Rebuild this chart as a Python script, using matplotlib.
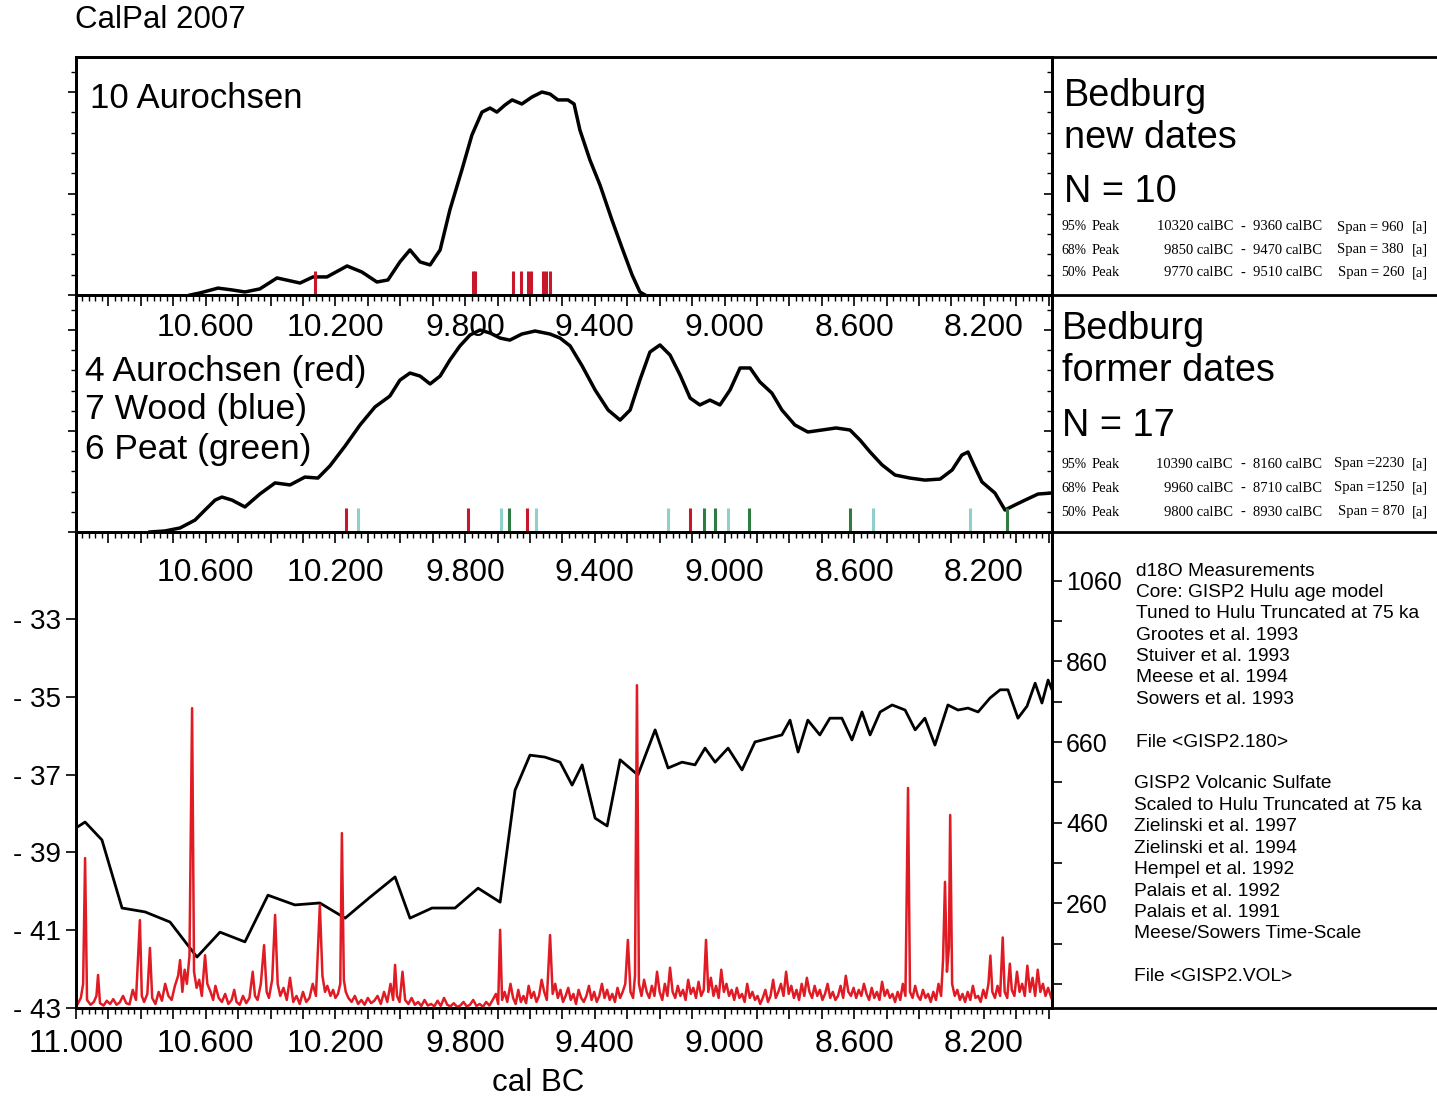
import matplotlib
matplotlib.use('Agg')
import matplotlib.pyplot as plt
from matplotlib.ticker import FixedLocator, MultipleLocator, FuncFormatter
from matplotlib.lines import Line2D

plt.rcParams['font.family'] = ['Liberation Sans', 'DejaVu Sans']

# ---------------- data ----------------
# x axis: years cal BC
xlabel_years = [10600, 10200, 9800, 9400, 9000, 8600, 8200]
bottom_xlabel_years = [11000, 10600, 10200, 9800, 9400, 9000, 8600, 8200]

# Panel 1: Bedburg new dates (summed probability, relative)
new_years = [10648, 10618, 10562, 10519, 10479, 10433, 10380, 10309, 10269, 10226,
             10164, 10118, 10072, 10038, 10001, 9970, 9939, 9908, 9877, 9847,
             9810, 9779, 9748, 9723, 9702, 9677, 9655, 9625, 9594, 9563,
             9538, 9514, 9483, 9464, 9446, 9415, 9384, 9347, 9316, 9285,
             9261, 9245]
new_prob = [0.0, 0.01, 0.034, 0.025, 0.015, 0.03, 0.084, 0.059, 0.089, 0.089,
            0.143, 0.113, 0.064, 0.074, 0.163, 0.222, 0.163, 0.148, 0.222, 0.419,
            0.616, 0.788, 0.901, 0.921, 0.901, 0.936, 0.961, 0.941, 0.975, 1.0,
            0.99, 0.961, 0.961, 0.941, 0.813, 0.665, 0.542, 0.369, 0.232, 0.099,
            0.015, 0.0]
new_dates_aurochs = [10263, 9776, 9770, 9652, 9628, 9606, 9597, 9560, 9550, 9538]

# Panel 2: Bedburg former dates
former_years = [10772, 10726, 10679, 10633, 10602, 10571, 10550, 10519, 10479, 10433,
                10386, 10340, 10294, 10254, 10217, 10170, 10124, 10078, 10032, 10001,
                9970, 9939, 9908, 9877, 9847, 9816, 9785, 9754, 9723, 9692,
                9662, 9625, 9584, 9538, 9507, 9476, 9439, 9399, 9359, 9322,
                9291, 9261, 9230, 9199, 9168, 9137, 9106, 9076, 9045, 9014,
                8983, 8952, 8921, 8891, 8854, 8823, 8783, 8743, 8699, 8656,
                8613, 8582, 8551, 8514, 8474, 8428, 8382, 8335, 8298, 8268,
                8249, 8231, 8206, 8166, 8135, 8104, 8073, 8033, 7990]
former_prob = [0.0, 0.005, 0.02, 0.059, 0.109, 0.158, 0.173, 0.158, 0.124, 0.188,
               0.243, 0.233, 0.272, 0.267, 0.327, 0.426, 0.53, 0.619, 0.673, 0.752,
               0.787, 0.772, 0.733, 0.772, 0.851, 0.921, 0.975, 1.0, 0.985, 0.96,
               0.95, 0.98, 0.995, 0.98, 0.96, 0.921, 0.822, 0.703, 0.604, 0.554,
               0.604, 0.752, 0.891, 0.926, 0.876, 0.777, 0.663, 0.629, 0.653, 0.629,
               0.703, 0.812, 0.812, 0.743, 0.688, 0.604, 0.53, 0.495, 0.505, 0.515,
               0.505, 0.455, 0.396, 0.332, 0.282, 0.267, 0.257, 0.262, 0.307, 0.381,
               0.396, 0.332, 0.248, 0.193, 0.109, 0.134, 0.158, 0.188, 0.193]
former_aurochs = [10168, 9792, 9610, 9105]
former_wood = [10131, 9689, 9581, 9173, 8990, 8541, 8243]
former_peat = [9665, 9064, 9029, 8924, 8613, 8130]

# Stats tables
levels = ['95%', '68%', '50%']
new_from = [10320, 9850, 9770]
new_to = [9360, 9470, 9510]
new_span = [960, 380, 260]
former_from = [10390, 9960, 9800]
former_to = [8160, 8710, 8930]
former_span = [2230, 1250, 870]

# Panel 3: GISP2 d18O (left axis) and volcanic sulfate (right axis)
d18o_years = [11000, 10972, 10920, 10858, 10787, 10710, 10627, 10556, 10479, 10408,
              10325, 10248, 10170, 10093, 10016, 9970, 9902, 9831, 9760, 9692,
              9646, 9600, 9554, 9507, 9470, 9439, 9399, 9362, 9322, 9267,
              9214, 9174, 9131, 9091, 9060, 9029, 8989, 8946, 8906, 8860,
              8823, 8798, 8773, 8743, 8706, 8675, 8638, 8607, 8576, 8551,
              8520, 8483, 8443, 8412, 8382, 8351, 8311, 8280, 8249, 8218,
              8181, 8150, 8126, 8095, 8067, 8042, 8021, 8002, 7990]
d18o_values = [-38.37, -38.22, -38.68, -40.43, -40.53, -40.79, -41.69, -41.05, -41.30, -40.10,
               -40.35, -40.30, -40.69, -40.15, -39.63, -40.69, -40.43, -40.43, -39.92, -40.28,
               -37.40, -36.50, -36.55, -36.68, -37.27, -36.75, -38.12, -38.32, -36.62, -37.01,
               -35.85, -36.83, -36.68, -36.75, -36.32, -36.68, -36.32, -36.88, -36.16, -36.06,
               -35.98, -35.60, -36.42, -35.60, -35.98, -35.55, -35.55, -36.11, -35.39, -35.98,
               -35.39, -35.21, -35.34, -35.85, -35.55, -36.24, -35.21, -35.34, -35.29, -35.39,
               -35.03, -34.82, -34.82, -35.55, -35.24, -34.65, -35.16, -34.57, -34.82]

sulfate_years = [
    10995, 10985, 10978, 10972, 10966, 10955, 10945, 10937, 10932, 10926,
    10915, 10905, 10895, 10885, 10875, 10865, 10855, 10845, 10835, 10825,
    10815, 10803, 10797, 10790, 10780, 10772, 10765, 10755, 10745, 10735,
    10725, 10715, 10705, 10695, 10685, 10679, 10672, 10665, 10658, 10650,
    10642, 10636, 10628, 10620, 10612, 10602, 10595, 10585, 10577, 10570,
    10560, 10550, 10540, 10530, 10520, 10512, 10505, 10495, 10485, 10475,
    10465, 10455, 10448, 10440, 10430, 10420, 10412, 10405, 10395, 10386,
    10378, 10370, 10360, 10350, 10340, 10330, 10320, 10310, 10300, 10290,
    10280, 10270, 10260, 10248, 10240, 10232, 10225, 10215, 10207, 10200,
    10192, 10185, 10180, 10174, 10168, 10160, 10150, 10140, 10130, 10120,
    10110, 10100, 10090, 10080, 10070, 10060, 10050, 10040, 10030, 10022,
    10016, 10010, 10002, 9993, 9985, 9975, 9965, 9955, 9945, 9935,
    9925, 9915, 9905, 9895, 9885, 9875, 9865, 9855, 9845, 9835,
    9825, 9815, 9805, 9795, 9785, 9775, 9765, 9755, 9745, 9735,
    9725, 9715, 9705, 9698, 9692, 9686, 9678, 9670, 9660, 9652,
    9644, 9636, 9628, 9620, 9612, 9604, 9596, 9588, 9580, 9572,
    9564, 9556, 9548, 9538, 9530, 9522, 9514, 9506, 9498, 9490,
    9482, 9474, 9466, 9458, 9450, 9442, 9434, 9426, 9418, 9410,
    9402, 9394, 9386, 9378, 9370, 9362, 9354, 9346, 9338, 9330,
    9322, 9314, 9306, 9298, 9290, 9282, 9276, 9270, 9264, 9256,
    9248, 9240, 9232, 9224, 9216, 9208, 9200, 9192, 9184, 9176,
    9168, 9160, 9152, 9144, 9136, 9128, 9120, 9112, 9104, 9096,
    9088, 9080, 9072, 9064, 9057, 9050, 9042, 9034, 9026, 9018,
    9010, 9002, 8994, 8986, 8978, 8970, 8962, 8954, 8946, 8938,
    8930, 8922, 8914, 8906, 8898, 8890, 8882, 8874, 8866, 8858,
    8850, 8842, 8834, 8826, 8818, 8810, 8802, 8794, 8786, 8778,
    8770, 8762, 8754, 8746, 8738, 8730, 8722, 8714, 8706, 8698,
    8690, 8682, 8674, 8666, 8658, 8650, 8642, 8634, 8626, 8618,
    8610, 8602, 8594, 8586, 8578, 8570, 8562, 8554, 8546, 8538,
    8530, 8522, 8514, 8506, 8498, 8490, 8482, 8474, 8466, 8458,
    8450, 8442, 8434, 8428, 8420, 8412, 8404, 8396, 8388, 8380,
    8372, 8364, 8356, 8348, 8340, 8332, 8326, 8320, 8314, 8308,
    8304, 8298, 8290, 8282, 8274, 8266, 8258, 8250, 8242, 8234,
    8226, 8218, 8210, 8202, 8194, 8186, 8180, 8174, 8166, 8158,
    8150, 8142, 8136, 8128, 8120, 8114, 8106, 8098, 8090, 8082,
    8074, 8066, 8058, 8050, 8042, 8034, 8026, 8018, 8010, 8002,
    7992]
sulfate_values = [
    10, 25, 60, 372, 20, 8, 15, 30, 82, 12,
    6, 18, 10, 22, 8, 14, 30, 12, 9, 45,
    20, 218, 30, 15, 35, 149, 25, 10, 40, 18,
    60, 30, 20, 55, 80, 119, 40, 95, 60, 130,
    744, 90, 50, 70, 30, 131, 60, 40, 20, 55,
    25, 15, 35, 10, 20, 45, 15, 8, 30, 12,
    25, 90, 30, 20, 60, 156, 40, 25, 70, 231,
    60, 30, 50, 20, 75, 15, 30, 10, 40, 15,
    25, 60, 30, 256, 80, 40, 55, 30, 45, 25,
    35, 60, 434, 70, 40, 25, 15, 30, 10, 20,
    8, 25, 12, 18, 30, 10, 40, 15, 60, 20,
    107, 30, 15, 90, 20, 10, 25, 8, 15, 5,
    20, 6, 10, 4, 18, 5, 25, 8, 4, 12,
    3, 6, 15, 4, 8, 20, 5, 10, 3, 15,
    6, 20, 35, 10, 194, 20, 40, 15, 60, 25,
    10, 45, 15, 30, 12, 55, 25, 40, 15, 30,
    70, 40, 20, 181, 35, 60, 25, 45, 15, 30,
    50, 20, 35, 10, 45, 25, 15, 30, 55, 20,
    40, 15, 30, 60, 25, 45, 20, 35, 15, 50,
    25, 40, 60, 169, 40, 25, 80, 801, 60, 30,
    70, 40, 25, 55, 30, 90, 40, 20, 60, 30,
    100, 40, 25, 55, 30, 45, 20, 70, 35, 50,
    25, 65, 30, 45, 169, 40, 75, 30, 55, 25,
    95, 40, 60, 30, 45, 20, 50, 25, 35, 15,
    60, 25, 40, 20, 30, 10, 25, 45, 15, 30,
    70, 25, 40, 60, 30, 90, 35, 55, 25, 45,
    20, 60, 30, 75, 40, 25, 55, 30, 45, 20,
    35, 60, 25, 40, 20, 30, 55, 25, 80, 40,
    30, 50, 25, 45, 30, 60, 35, 20, 50, 25,
    40, 20, 65, 30, 45, 25, 35, 15, 40, 20,
    60, 30, 546, 40, 25, 55, 30, 20, 45, 25,
    35, 15, 40, 20, 60, 30, 120, 313, 90, 150,
    479, 60, 30, 45, 20, 35, 15, 40, 20, 55,
    25, 30, 15, 45, 25, 60, 130, 40, 25, 55,
    30, 175, 40, 25, 110, 45, 30, 90, 40, 60,
    30, 105, 40, 75, 30, 95, 40, 60, 30, 50,
    25]

d18o_ticks = [-33, -35, -37, -39, -41, -43]
sulfate_ticks = [60, 160, 260, 360, 460, 560, 660, 760, 860, 960, 1060]
sulfate_labels = [260, 460, 660, 860, 1060]

# ---------------- layout ----------------
W, H = 1437, 1098
fig = plt.figure(figsize=(W / 100, H / 100), dpi=100)


def fx(px):
    return px / W


def fy(py):
    return 1 - py / H


LW = 2.0
RED = '#c8162a'
WOOD = '#8fd0cc'
PEAT = '#2f7d42'
SULF = '#e01b24'
X0, X1 = 11000, 7990


def make_axes(top, bottom):
    ax = fig.add_axes([fx(76), fy(bottom), fx(1052) - fx(76), (bottom - top) / H])
    ax.patch.set_visible(False)
    ax.set_xlim(X0, X1)
    for s in ax.spines.values():
        s.set_linewidth(LW)
    return ax


def setup_x(ax, labels, pad):
    ax.xaxis.set_major_locator(MultipleLocator(100))
    ax.xaxis.set_minor_locator(MultipleLocator(20))
    ax.xaxis.set_major_formatter(FuncFormatter(
        lambda v, p: f"{v / 1000:.3f}" if int(round(v)) in labels else ''))
    ax.tick_params(axis='x', which='major', direction='out', length=8, width=1.2,
                   labelsize=23, pad=pad, top=False)
    ax.tick_params(axis='x', which='minor', direction='out', length=4.5, width=1.0, top=False)


def setup_prob_y(ax, ymax):
    ax.set_ylim(0, ymax)
    ax.yaxis.set_major_locator(MultipleLocator(0.5))
    ax.yaxis.set_minor_locator(MultipleLocator(0.1))
    ax.tick_params(axis='y', which='major', direction='out', length=6, width=1.2,
                   labelleft=False, right=False)
    ax.tick_params(axis='y', which='minor', direction='out', length=3.5, width=1.0, right=False)
    axr = ax.twinx()
    axr.set_ylim(0, ymax)
    axr.yaxis.set_major_locator(MultipleLocator(0.5))
    axr.yaxis.set_minor_locator(MultipleLocator(0.1))
    axr.tick_params(axis='y', which='major', direction='in', length=6, width=1.2, labelright=False)
    axr.tick_params(axis='y', which='minor', direction='in', length=3.5, width=1.0)
    for s in axr.spines.values():
        s.set_linewidth(LW)


# ---- panel 1
ax1 = make_axes(57, 295)
setup_x(ax1, xlabel_years, 5)
setup_prob_y(ax1, 238 / 203)
ax1.plot(new_years, new_prob, color='black', lw=2.5, solid_joinstyle='round')
ax1.vlines(new_dates_aurochs, 0, 0.1, color=RED, lw=2.2, transform=ax1.get_xaxis_transform())

# ---- panel 2
ax2 = make_axes(295, 532)
setup_x(ax2, xlabel_years, 11)
setup_prob_y(ax2, 237 / 202)
ax2.plot(former_years, former_prob, color='black', lw=2.5, solid_joinstyle='round')
xt = ax2.get_xaxis_transform()
ax2.vlines(former_aurochs, 0, 0.1, color=RED, lw=2.2, transform=xt)
ax2.vlines(former_wood, 0, 0.1, color=WOOD, lw=2.2, transform=xt)
ax2.vlines(former_peat, 0, 0.1, color=PEAT, lw=2.2, transform=xt)

# ---- panel 3
ax3 = make_axes(532, 1008)
setup_x(ax3, bottom_xlabel_years, 7)
ax3.set_ylim(-43, -43 + 476 / 38.9)
ax3.yaxis.set_major_locator(FixedLocator(d18o_ticks))
ax3.yaxis.set_major_formatter(FuncFormatter(lambda v, p: f"- {abs(int(round(v)))}"))
ax3.tick_params(axis='y', direction='out', length=7, width=1.2, labelsize=20, pad=4, right=False)
ax3.plot(d18o_years, d18o_values, color='black', lw=2.0)

ax3r = ax3.twinx()
ax3r.set_ylim(0, 476 / 0.403)
ax3r.yaxis.set_major_locator(FixedLocator(sulfate_ticks))
ax3r.yaxis.set_major_formatter(FuncFormatter(
    lambda v, p: f"{int(round(v))}" if int(round(v)) in sulfate_labels else ''))
ax3r.tick_params(axis='y', direction='out', length=7, width=1.2, labelsize=18, pad=3)
for s in ax3r.spines.values():
    s.set_linewidth(LW)
ax3r.plot(sulfate_years, sulfate_values, color=SULF, lw=1.8)

# frame extensions to the right edge
for yy in (57, 295, 532, 1008):
    fig.add_artist(Line2D([fx(1052), 1.0], [fy(yy), fy(yy)], transform=fig.transFigure,
                          color='black', lw=LW))

# ---------------- texts ----------------
fig.text(fx(75), fy(20), 'CalPal 2007', fontsize=22.5, va='center', ha='left')
fig.text(fx(90), fy(98), '10 Aurochsen', fontsize=25, va='center', ha='left')
fig.text(fx(85), fy(372), '4 Aurochsen (red)', fontsize=25.5, va='center', ha='left')
fig.text(fx(85), fy(410), '7 Wood (blue)', fontsize=25.5, va='center', ha='left')
fig.text(fx(85), fy(449), '6 Peat (green)', fontsize=25.5, va='center', ha='left')

fig.text(fx(1064), fy(96), 'Bedburg', fontsize=27.3, va='center', ha='left')
fig.text(fx(1064), fy(138), 'new dates', fontsize=27.3, va='center', ha='left')
fig.text(fx(1064), fy(192), 'N = 10', fontsize=27.3, va='center', ha='left')
fig.text(fx(1062), fy(329), 'Bedburg', fontsize=27.3, va='center', ha='left')
fig.text(fx(1062), fy(371), 'former dates', fontsize=27.3, va='center', ha='left')
fig.text(fx(1062), fy(426), 'N = 17', fontsize=27.3, va='center', ha='left')

SERIF = ['Liberation Serif', 'DejaVu Serif']


def stats_rows(ys, froms, tos, spans):
    for y, lev, f, t, s in zip(ys, levels, froms, tos, spans):
        kw = dict(fontsize=10.5, va='center', family=SERIF)
        fig.text(fx(1061), fy(y), lev, ha='left', fontsize=9.8, va='center', family=SERIF)
        fig.text(fx(1092), fy(y), 'Peak', ha='left', **kw)
        fig.text(fx(1233), fy(y), f'{f} calBC', ha='right', **kw)
        fig.text(fx(1243), fy(y), '-', ha='center', **kw)
        fig.text(fx(1253), fy(y), f'{t} calBC', ha='left', **kw)
        span_txt = f'Span = {s}' if s < 1000 else f'Span ={s}'
        fig.text(fx(1404), fy(y), span_txt, ha='right', **kw)
        fig.text(fx(1412), fy(y), '[a]', ha='left', **kw)


stats_rows([227, 250, 273], new_from, new_to, new_span)
stats_rows([464, 488, 512], former_from, former_to, former_span)

block1 = ['d18O Measurements', 'Core: GISP2 Hulu age model',
          'Tuned to Hulu Truncated at 75 ka', 'Grootes et al. 1993',
          'Stuiver et al. 1993', 'Meese et al. 1994', 'Sowers et al. 1993',
          '', 'File <GISP2.180>']
block2 = ['GISP2 Volcanic Sulfate', 'Scaled to Hulu Truncated at 75 ka',
          'Zielinski et al. 1997', 'Zielinski et al. 1994', 'Hempel et al. 1992',
          'Palais et al. 1992', 'Palais et al. 1991', 'Meese/Sowers Time-Scale',
          '', 'File <GISP2.VOL>']
for i, line in enumerate(block1):
    fig.text(fx(1136), fy(571 + i * 21.4), line, fontsize=13.8, va='center', ha='left')
for i, line in enumerate(block2):
    fig.text(fx(1134), fy(784 + i * 21.4), line, fontsize=13.8, va='center', ha='left')

fig.text(fx(538), fy(1083), 'cal BC', fontsize=22.5, va='center', ha='center')

fig.savefig('out.png', dpi=100)
